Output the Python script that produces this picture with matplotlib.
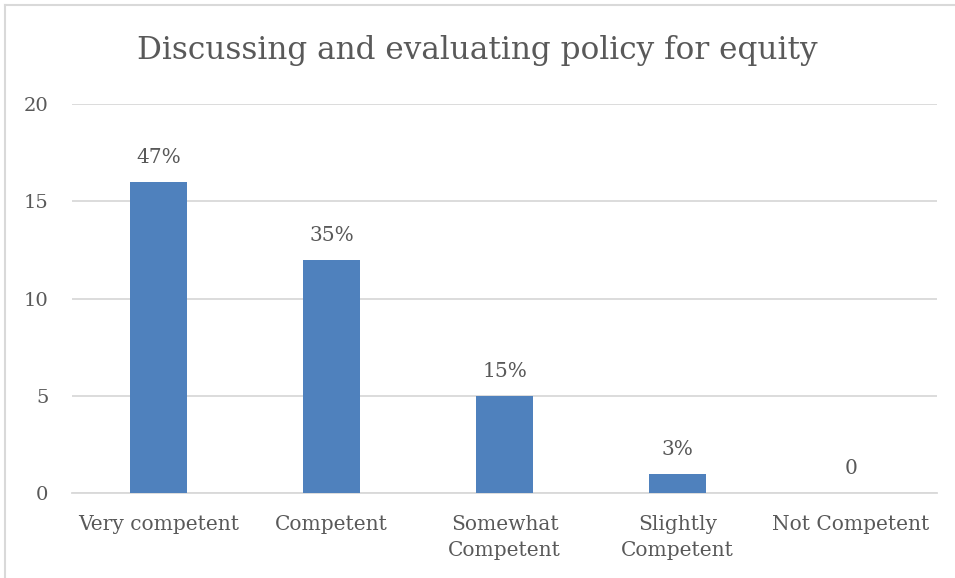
import matplotlib
matplotlib.use("Agg")
import matplotlib.pyplot as plt
from matplotlib.lines import Line2D

categories = ["Very competent", "Competent", "Somewhat\nCompetent", "Slightly\nCompetent", "Not Competent"]
counts = [16, 12, 5, 1, 0]
labels = ["47%", "35%", "15%", "3%", "0"]
yticks = [0, 5, 10, 15, 20]

plt.rcParams['font.family'] = ['DejaVu Serif']
text_color = "#595959"
grid_color = "#d9d9d9"
bar_color = "#4f81bd"

fig = plt.figure(figsize=(9.55, 5.78), dpi=100)
ax = fig.add_axes([0.0754, 0.147, 0.906, 0.673])

x = list(range(len(categories)))
ax.bar(x, counts, width=0.33, color=bar_color, zorder=3)
for xi, c, lab in zip(x, counts, labels):
    ax.annotate(lab, (xi, c), xytext=(0, 10.5), textcoords="offset points",
                ha="center", va="bottom", fontsize=14.5, color=text_color)

ax.set_xlim(-0.5, len(categories) - 0.5)
ax.set_ylim(0, 20)
ax.set_yticks(yticks)
ax.set_xticks(x)
ax.set_xticklabels(categories, fontsize=14.5, color=text_color, linespacing=1.45)
ax.tick_params(axis="y", labelsize=14, labelcolor=text_color, length=0, pad=17)
ax.tick_params(axis="x", length=0, pad=16)
ax.grid(axis="y", color=grid_color, linewidth=1.3, zorder=0)
for s in ["top", "right", "left"]:
    ax.spines[s].set_visible(False)
ax.spines["bottom"].set_color(grid_color)
ax.spines["bottom"].set_linewidth(1.3)

fig.text(0.5, 0.913, "Discussing and evaluating policy for equity", ha="center", va="center",
         fontsize=22.4, color=text_color)

# outer chart frame (left and top edges)
fig.add_artist(Line2D([5/955, 5/955], [0, 1 - 5/578], transform=fig.transFigure, color=grid_color, lw=1.5))
fig.add_artist(Line2D([5/955, 1], [1 - 5/578, 1 - 5/578], transform=fig.transFigure, color=grid_color, lw=1.5))

fig.savefig("out.png", dpi=100)
